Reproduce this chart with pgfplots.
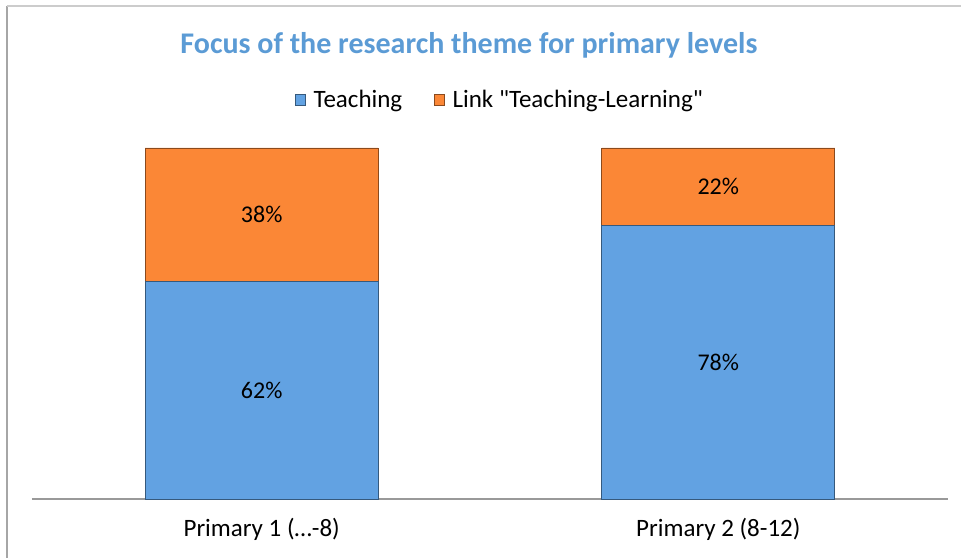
\documentclass[border=0pt]{standalone}
\usepackage{pgfplots}
\pgfplotsset{compat=1.18}
\usepackage{fontspec}
\setmainfont{Carlito}[Ligatures=TeXOff]
\definecolor{cblue}{HTML}{62A2E2}
\definecolor{corange}{HTML}{FB8736}
\definecolor{ctitle}{HTML}{5B9BD5}
\begin{document}
\begin{tikzpicture}[x=1pt,y=1pt]
\path[use as bounding box] (-32,-58) rectangle (929,499);
\draw[color=black!35, line width=1.2pt] (-25,-60) -- (-25,493);
\draw[color=black!20, line width=1.2pt] (-25,493) -- (932,493);
\begin{axis}[
  at={(0,0)}, anchor=south west,
  scale only axis, width=916pt, height=351pt,
  ybar stacked, bar width=0.51,
  xmin=-0.503, xmax=1.503, ymin=0, ymax=100,
  xtick={0,1}, xticklabels={{Primary 1 (\ldots-8)}, {Primary 2 (8-12)}},
  ytick=\empty,
  axis x line*=bottom, axis y line=none,
  x axis line style={color=black!40, line width=1.2pt, -},
  major tick length=0pt,
  /pgf/number format/assume math mode=true,
  xticklabel style={font=\fontsize{25}{28}\selectfont, yshift=-16pt},
  point meta=rawy,
  nodes near coords={\pgfmathprintnumber{\pgfplotspointmeta}\%},
  every node near coord/.append style={font=\fontsize{24}{28}\selectfont, anchor=center, color=black},
  legend style={draw=none, fill=none, at={(468pt,399pt)}, anchor=center, legend columns=-1, font=\fontsize{25}{28}\selectfont, /tikz/every even column/.append style={column sep=30pt}},
  legend image code/.code={\fill[#1] (0pt,-5.5pt) rectangle (10pt,5.5pt); \path[draw=none, fill=none] (0pt,0pt) -- (16pt,0pt);},
  clip=false,
]
\addplot[fill=cblue, draw=cblue!55!black, line width=0.8pt] coordinates {(0,62) (1,78)};
\addplot[fill=corange, draw=corange!55!black, line width=0.8pt] coordinates {(0,38) (1,22)};
\legend{Teaching, Link "Teaching-Learning"}
\end{axis}
\node[font=\bfseries\fontsize{30}{34}\selectfont, text=ctitle] at (437,454) {Focus of the research theme for primary levels};
\end{tikzpicture}
\end{document}
